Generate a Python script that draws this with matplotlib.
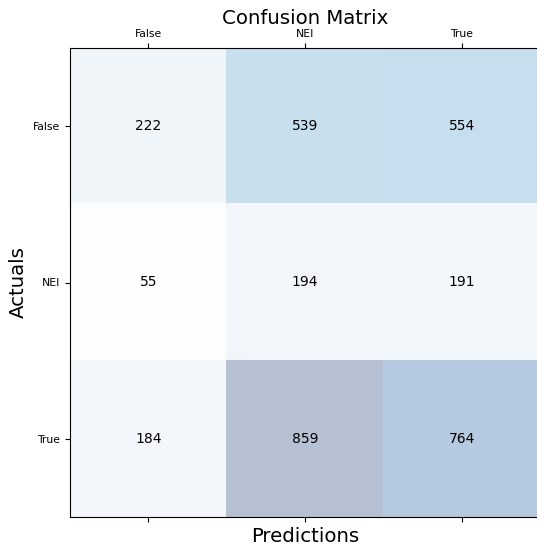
import numpy as np
import matplotlib
matplotlib.use("Agg")
import matplotlib.pyplot as plt

labels = ["False", "NEI", "True"]
row_false = [222, 539, 554]
row_nei = [55, 194, 191]
row_true = [184, 859, 764]

conf_matrix = np.array([row_false, row_nei, row_true])

fig = plt.figure(figsize=(5.37, 5.50), dpi=100)
ax = fig.add_axes([70 / 537, 33 / 550, 470 / 537, 469 / 550])
ax.matshow(conf_matrix, cmap=plt.cm.Blues, alpha=0.3, aspect="auto")

for i in range(conf_matrix.shape[0]):
    for j in range(conf_matrix.shape[1]):
        ax.text(x=j, y=i, s=conf_matrix[i, j], va="center", ha="center", fontsize=10)

ax.set_xticks(range(len(labels)))
ax.set_yticks(range(len(labels)))
ax.set_xticklabels(labels, fontsize=7.8)
ax.set_yticklabels(labels, fontsize=7.8)
ax.tick_params(axis="x", pad=2.8)

ax.set_xlabel("Predictions", fontsize=14.2)
ax.set_ylabel("Actuals", fontsize=14.2)
ax.set_title("Confusion Matrix", fontsize=14.2, pad=3.5)

fig.savefig("out.png", dpi=100)
